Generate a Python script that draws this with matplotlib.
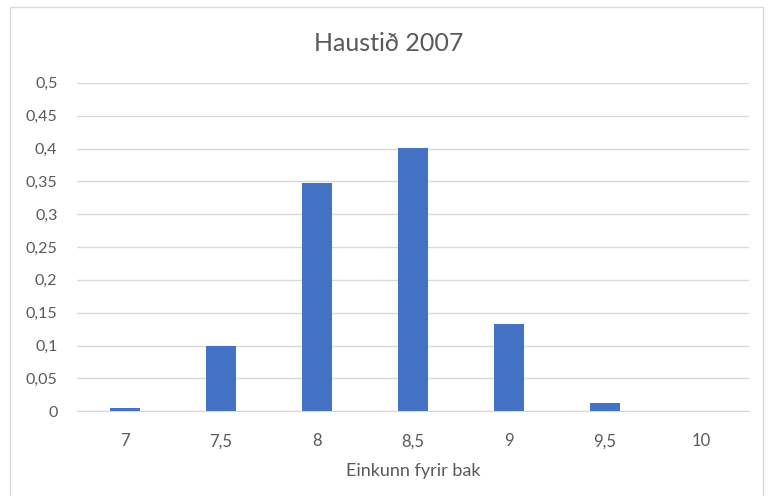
import matplotlib.pyplot as plt
from matplotlib.patches import Rectangle

categories = ['7', '7,5', '8', '8,5', '9', '9,5', '10']
values = [0.005, 0.099, 0.348, 0.401, 0.133, 0.012, 0.001]
yticks = [0, 0.05, 0.1, 0.15, 0.2, 0.25, 0.3, 0.35, 0.4, 0.45, 0.5]
ytick_labels = ['0', '0,05', '0,1', '0,15', '0,2', '0,25', '0,3', '0,35', '0,4', '0,45', '0,5']

plt.rcParams['font.family'] = ['Lato', 'DejaVu Sans']
grey = '#595959'

fig = plt.figure(figsize=(7.77, 4.96), dpi=100)
ax = fig.add_axes([0.099, 0.171, 0.865, 0.662])

x = range(len(categories))
ax.bar(x, values, width=0.32, color='#4472C4', zorder=3)

ax.set_xlim(-0.5, len(categories) - 0.5)
ax.set_ylim(0, 0.5)
ax.set_yticks(yticks)
ax.set_yticklabels(ytick_labels, color=grey, fontsize=11.5)
ax.set_xticks(list(x))
ax.set_xticklabels(categories, color=grey, fontsize=12)
ax.tick_params(length=0)
ax.tick_params(axis='y', pad=14)
ax.tick_params(axis='x', pad=16)
ax.yaxis.grid(True, color='#d9d9d9', linewidth=1, zorder=0)
for s in ['top', 'right', 'left']:
    ax.spines[s].set_visible(False)
ax.spines['bottom'].set_color('#d9d9d9')

ax.set_xlabel('Einkunn fyrir bak', color=grey, fontsize=13, labelpad=10)
fig.text(0.5, 0.912, 'Haustið 2007', ha='center', va='center', color=grey, fontsize=18)

# chart border
fig.patches.append(Rectangle((10 / 777, -0.01), 753 / 777, 1 - 7 / 496 + 0.01,
                             transform=fig.transFigure, fill=False,
                             edgecolor='#d9d9d9', linewidth=1))

fig.savefig('out.png', dpi=100)
